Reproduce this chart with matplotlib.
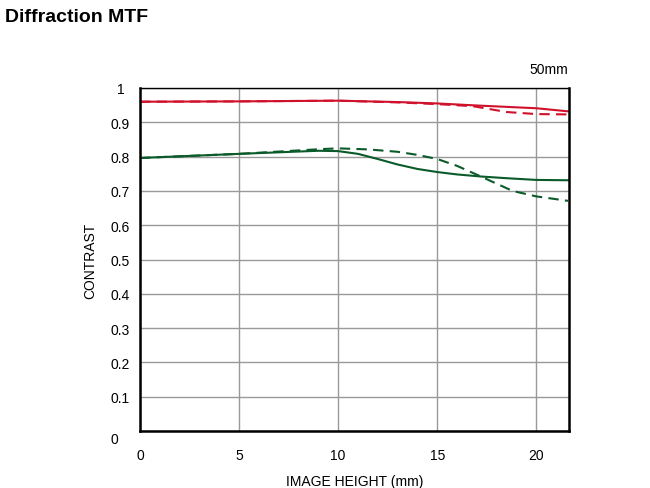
import matplotlib.pyplot as plt

plt.rcParams['font.family'] = ['Liberation Sans', 'DejaVu Sans']

# image height (mm) and contrast values
red_x = [0, 5, 10, 13, 15, 17, 20, 21.6]
red_solid = [0.960, 0.961, 0.963, 0.959, 0.955, 0.949, 0.941, 0.932]
red_dash_x = [0, 5, 10, 13, 15, 16.8, 18.5, 20, 21.6]
red_dash = [0.960, 0.961, 0.963, 0.958, 0.953, 0.947, 0.930, 0.924, 0.923]

green_x = [0, 5, 9, 10, 11, 12, 13, 14, 15, 16, 17.2, 18.5, 20, 21.6]
green_solid = [0.796, 0.808, 0.817, 0.816, 0.808, 0.793, 0.777, 0.764, 0.755, 0.748, 0.742, 0.737, 0.732, 0.731]
green_dash_x = [0, 5, 8, 9.2, 10, 11.5, 13, 14, 15, 16, 17.2, 18.8, 20, 21.6]
green_dash = [0.796, 0.808, 0.818, 0.822, 0.824, 0.821, 0.814, 0.805, 0.793, 0.773, 0.742, 0.700, 0.684, 0.671]

x_ticks = [0, 5, 10, 15, 20]
y_ticks = [0, 0.1, 0.2, 0.3, 0.4, 0.5, 0.6, 0.7, 0.8, 0.9, 1.0]
y_labels = ['', '0.1', '0.2', '0.3', '0.4', '0.5', '0.6', '0.7', '0.8', '0.9', '1']

fig = plt.figure(figsize=(6.5, 4.89), dpi=100)
ax = fig.add_axes([140 / 650, 57 / 489, 429 / 650, 343 / 489])

red = '#d0112b'
green = '#0b5a2a'
ax.plot(red_x, red_solid, color=red, lw=1.5)
ax.plot(red_dash_x, red_dash, color=red, lw=1.5, ls=(0, (5, 3)))
ax.plot(green_x, green_solid, color=green, lw=1.5)
ax.plot(green_dash_x, green_dash, color=green, lw=1.5, ls=(0, (5, 3)))

ax.set_xlim(0, 21.65)
ax.set_ylim(0, 1)
ax.set_xticks(x_ticks)
ax.set_yticks(y_ticks)
ax.set_yticklabels(y_labels)
ax.grid(True, color='#999999', lw=1)
ax.set_axisbelow(True)
ax.tick_params(length=0, labelsize=10, pad=12)
ax.tick_params(axis='y', pad=14)
for lab in ax.get_yticklabels():
    lab.set_horizontalalignment('center')

# the zero label sits a little below the axis in the original
ax.text(-26 / 429, -8 / 343, '0', transform=ax.transAxes, fontsize=10,
        ha='center', va='center')

for side in ['left', 'bottom', 'right']:
    ax.spines[side].set_linewidth(1.8)
ax.spines['top'].set_linewidth(1.0)

ax.set_xlabel('IMAGE HEIGHT (mm)', fontsize=10, labelpad=9)
ax.set_ylabel('CONTRAST', fontsize=10, labelpad=10)

fig.text(5 / 650, 1 - 18 / 489, 'Diffraction MTF', fontsize=14, fontweight='bold', va='center')
fig.text(568 / 650, 1 - 70 / 489, '50mm', fontsize=10, ha='right', va='center')

fig.savefig('out.png', dpi=100)
